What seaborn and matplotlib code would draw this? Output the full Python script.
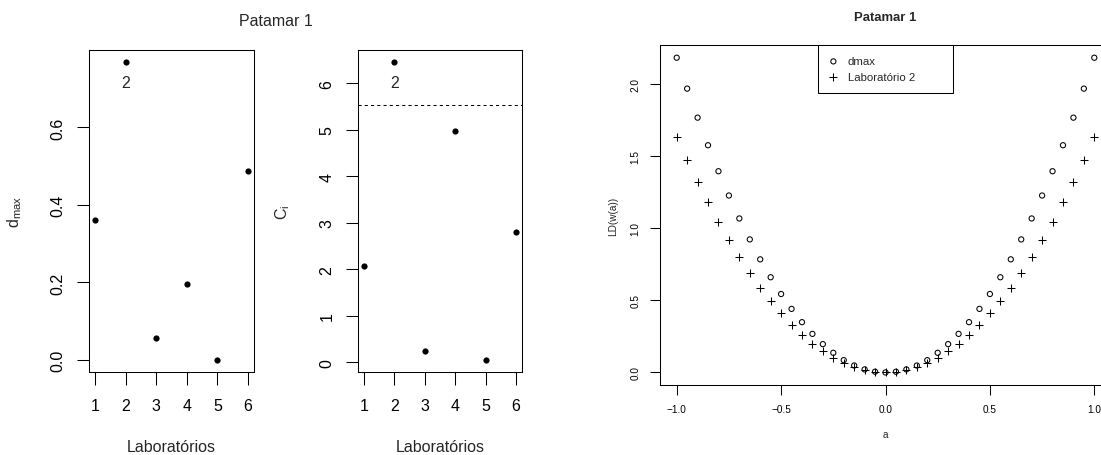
import numpy as np
import pandas as pd
import matplotlib
matplotlib.use('Agg')
import matplotlib.pyplot as plt
import seaborn as sns

# data
labs = [1, 2, 3, 4, 5, 6]
dmax = [0.360, 0.769, 0.058, 0.195, 0.0, 0.488]
ci = [2.08, 6.46, 0.24, 4.97, 0.05, 2.80]
ci_limit = 5.53
outlier_lab = 2

a_grid = np.linspace(-1, 1, 41)
ld_dmax = [2.179, 1.965, 1.764, 1.573, 1.393, 1.225, 1.066, 0.921, 0.783, 0.659,
           0.543, 0.440, 0.348, 0.267, 0.196, 0.136, 0.085, 0.048, 0.021, 0.005,
           0.0,
           0.005, 0.021, 0.048, 0.085, 0.136, 0.196, 0.267, 0.348, 0.440, 0.543,
           0.659, 0.783, 0.921, 1.066, 1.225, 1.393, 1.573, 1.764, 1.965, 2.179]
ld_lab2 = [1.631, 1.472, 1.320, 1.179, 1.044, 0.919, 0.799, 0.691, 0.587, 0.493,
           0.410, 0.329, 0.260, 0.200, 0.147, 0.101, 0.064, 0.035, 0.016, 0.004,
           0.0,
           0.004, 0.016, 0.035, 0.064, 0.101, 0.147, 0.200, 0.260, 0.329, 0.410,
           0.493, 0.587, 0.691, 0.799, 0.919, 1.044, 1.179, 1.320, 1.472, 1.631]

sns.set_style('ticks')
plt.rcParams['font.family'] = ['Liberation Sans', 'DejaVu Sans']
plt.rcParams['mathtext.default'] = 'regular'
plt.rcParams['axes.linewidth'] = 0.75

W, H = 1101, 456
fig = plt.figure(figsize=(W / 100, H / 100), dpi=100)


def px_axes(l, t, r, b):
    return fig.add_axes([l / W, 1 - b / H, (r - l) / W, (b - t) / H])


big = 11.5
small = 7.2


def r_style(ax, fs, ticklen, pad):
    for s in ax.spines.values():
        s.set_visible(True)
        s.set_color('black')
        s.set_linewidth(0.75)
    ax.tick_params(axis='both', direction='out', length=ticklen, width=0.75,
                   labelsize=fs, pad=pad, colors='black')
    for lab in ax.get_yticklabels():
        lab.set_rotation(90)
        lab.set_va('center')


df1 = pd.DataFrame({'lab': labs, 'dmax': dmax, 'ci': ci})

# panel 1 : dmax
ax1 = px_axes(89, 51, 254, 373)
sns.scatterplot(data=df1, x='lab', y='dmax', ax=ax1, color='black', s=20,
                edgecolor='black', linewidth=0)
ax1.set_xlim(0.8, 6.2)
ax1.set_ylim(-0.031, 0.8)
ax1.set_xticks(labs)
ax1.set_yticks([0.0, 0.2, 0.4, 0.6])
ax1.set_yticklabels(['0.0', '0.2', '0.4', '0.6'])
r_style(ax1, big, 9, 10)
ax1.tick_params(axis='y', pad=8)
ax1.set_xlabel('Laboratórios', fontsize=big)
ax1.set_ylabel('$d_{max}$', fontsize=big)
ax1.xaxis.set_label_coords(0.5, -(447 - 373) / 322)
ax1.xaxis.label.set_va('center')
ax1.yaxis.set_label_coords((15 - 89) / 165, 0.5)
ax1.yaxis.label.set_va('center')
ax1.annotate(str(outlier_lab), (outlier_lab, dmax[outlier_lab - 1]),
             xytext=(0, -15), textcoords='offset points', ha='center',
             va='center', fontsize=big)

# panel 2 : Ci
ax2 = px_axes(358, 51, 522, 373)
sns.scatterplot(data=df1, x='lab', y='ci', ax=ax2, color='black', s=20,
                edgecolor='black', linewidth=0)
ax2.axhline(ci_limit, color='black', linestyle=(0, (3, 3)), linewidth=0.75)
ax2.set_xlim(0.8, 6.2)
ax2.set_ylim(-0.206, 6.713)
ax2.set_xticks(labs)
ax2.set_yticks([0, 1, 2, 3, 4, 5, 6])
ax2.set_yticklabels(['0', '1', '2', '3', '4', '5', '6'])
r_style(ax2, big, 9, 10)
ax2.tick_params(axis='y', pad=8)
ax2.set_xlabel('Laboratórios', fontsize=big)
ax2.set_ylabel('$C_i$', fontsize=big)
ax2.xaxis.set_label_coords(0.5, -(447 - 373) / 322)
ax2.xaxis.label.set_va('center')
ax2.yaxis.set_label_coords((283 - 358) / 164, 0.5)
ax2.yaxis.label.set_va('center')
ax2.annotate(str(outlier_lab), (outlier_lab, ci[outlier_lab - 1]),
             xytext=(0, -15), textcoords='offset points', ha='center',
             va='center', fontsize=big)

fig.text(276 / W, 1 - 21 / H, 'Patamar 1', ha='center', va='center', fontsize=big)

# panel 3 : LD(w(a))
ax3 = px_axes(660, 46, 1111, 386)
df3 = pd.DataFrame({'a': a_grid, 'dmax': ld_dmax, 'lab2': ld_lab2})
sns.scatterplot(data=df3, x='a', y='dmax', ax=ax3, marker='o', s=14,
                facecolor='none', edgecolor='black', linewidth=0.75, label='dmax')
sns.scatterplot(data=df3, x='a', y='lab2', ax=ax3, marker='+', s=26,
                color='black', linewidth=0.75, label='Laboratório 2')
ax3.set_xlim(-1.08, 1.08)
ax3.set_ylim(-0.087, 2.267)
ax3.set_xticks([-1.0, -0.5, 0.0, 0.5, 1.0])
ax3.set_xticklabels(['\u22121.0', '\u22120.5', '0.0', '0.5', '1.0'])
ax3.set_yticks([0.0, 0.5, 1.0, 1.5, 2.0])
ax3.set_yticklabels(['0.0', '0.5', '1.0', '1.5', '2.0'])
r_style(ax3, small, 7, 7)
ax3.set_xlabel('a', fontsize=small)
ax3.set_ylabel('LD(w(a))', fontsize=small)
ax3.xaxis.set_label_coords(0.5, -(435 - 386) / 340)
ax3.xaxis.label.set_va('center')
ax3.yaxis.set_label_coords((613 - 660) / 451, 0.5)
ax3.yaxis.label.set_va('center')
ax3.set_title('Patamar 1', fontsize=9.4, fontweight='bold', pad=0,
              y=(386 - 18) / 340, va='center')
leg = ax3.legend(loc='upper left',
                 bbox_to_anchor=((818 - 660) / 451, 1 - 51 / 340, 135 / 451, 51 / 340),
                 mode='expand', borderaxespad=0, fancybox=False, fontsize=8.2,
                 frameon=True, handletextpad=0.9, labelspacing=0.5,
                 borderpad=1.0, handlelength=0.7)
leg.get_frame().set_edgecolor('black')
leg.get_frame().set_linewidth(0.75)
leg.get_frame().set_alpha(1)

fig.savefig('out.png', dpi=100)
